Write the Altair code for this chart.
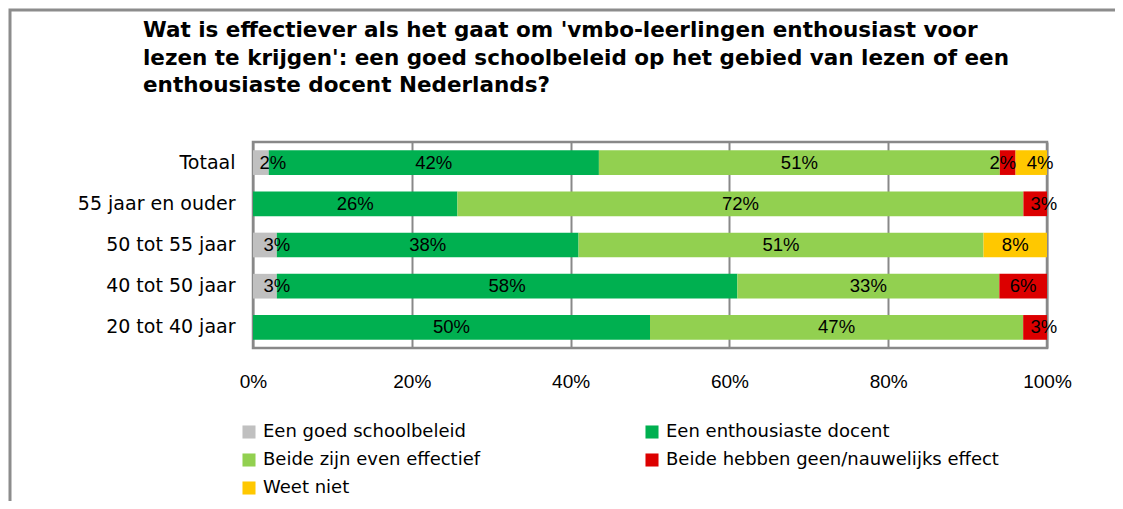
import altair as alt
import pandas as pd

groups = ["Totaal", "55 jaar en ouder", "50 tot 55 jaar", "40 tot 50 jaar", "20 tot 40 jaar"]
series = ["Een goed schoolbeleid", "Een enthousiaste docent", "Beide zijn even effectief",
          "Beide hebben geen/nauwelijks effect", "Weet niet"]
colors = ["#C0C0C0", "#00B050", "#92D050", "#DC0000", "#FFC800"]

schoolbeleid = [2, 0, 3, 3, 0]
docent = [42, 26, 38, 58, 50]
beide_effectief = [51, 72, 51, 33, 47]
geen_effect = [2, 3, 0, 6, 3]
weet_niet = [4, 0, 8, 0, 0]

x_ticks = [0, 0.2, 0.4, 0.6, 0.8, 1.0]

title_lines = [
    "Wat is effectiever als het gaat om 'vmbo-leerlingen enthousiast voor",
    "lezen te krijgen': een goed schoolbeleid op het gebied van lezen of een",
    "enthousiaste docent Nederlands?",
]

rows = []
for si, (name, vals) in enumerate(zip(series, [schoolbeleid, docent, beide_effectief, geen_effect, weet_niet])):
    for g, v in zip(groups, vals):
        rows.append({"group": g, "series": name, "value": v, "order": si})
df = pd.DataFrame(rows)

base = alt.Chart(df).transform_stack(
    stack="value", groupby=["group"], as_=["s0", "s1"], offset="normalize",
    sort=[alt.SortField("order", order="ascending")]
).transform_filter("datum.value > 0").transform_calculate(
    mid="(datum.s0 + datum.s1) / 2"
    " + (datum.value < 5 && datum.s1 > 0.999 ? 0.011 : 0)"
    " + (datum.value < 5 && datum.s0 < 0.001 ? 0.015 : 0)"
    " - (datum.value < 5 && datum.s0 > 0.001 && datum.s1 < 0.999 ? 0.006 : 0)",
    label="datum.value + '%'"
)

yenc = alt.Y("group:N", sort=groups,
             scale=alt.Scale(paddingInner=0.4, paddingOuter=0.2),
             axis=alt.Axis(title=None, ticks=False, domain=False, labelPadding=18,
                           labelFont="DejaVu Sans", labelFontSize=19, labelColor="#000000"))

bars = base.mark_bar().encode(
    x=alt.X("s0:Q", scale=alt.Scale(domain=[0, 1], nice=False),
            axis=alt.Axis(values=x_ticks, format=".0%", title=None, ticks=False, domain=False,
                          grid=True, gridColor="#888888", gridWidth=2, labelPadding=24,
                          labelFlush=False,
                          labelFont="Liberation Sans", labelFontSize=19, labelColor="#000000")),
    x2="s1:Q",
    y=yenc,
    color=alt.Color("series:N", scale=alt.Scale(domain=series, range=colors),
                    legend=alt.Legend(title=None, orient="none", legendX=-13, legendY=281,
                                      padding=0, direction="horizontal",
                                      columns=2, columnPadding=162, rowPadding=10,
                                      symbolType="square", symbolSize=170, symbolStrokeWidth=0,
                                      symbolOpacity=1, labelOffset=5,
                                      labelFont="DejaVu Sans", labelFontSize=18,
                                      labelColor="#000000", labelLimit=400)),
)

texts = base.mark_text(font="Liberation Sans", fontSize=18.5, color="#000000", baseline="middle").encode(
    x="mid:Q",
    y=alt.Y("group:N", sort=groups),
    text="label:N",
)

frame = alt.Chart(pd.DataFrame({"f": [0]})).mark_rect(
    fill=None, stroke="#8C8C8C", strokeWidth=3
).encode(x=alt.value(-243), x2=alt.value(1000), y=alt.value(-132), y2=alt.value(500))

chart = alt.layer(frame, bars, texts).properties(
    width=794, height=206,
    autosize=alt.AutoSizeParams(type="none"),
    padding={"left": 245, "top": 134, "right": 68, "bottom": 153},
    title=alt.TitleParams(text=title_lines, anchor="start", frame="group", dx=-110,
                          offset=-88, font="DejaVu Sans", fontSize=21.5, fontWeight="bold",
                          lineHeight=27.5, color="#000000"),
).configure_view(stroke="#888888", strokeWidth=2.5)

chart.save("out.html", embed_options={"renderer": "svg", "actions": False})
